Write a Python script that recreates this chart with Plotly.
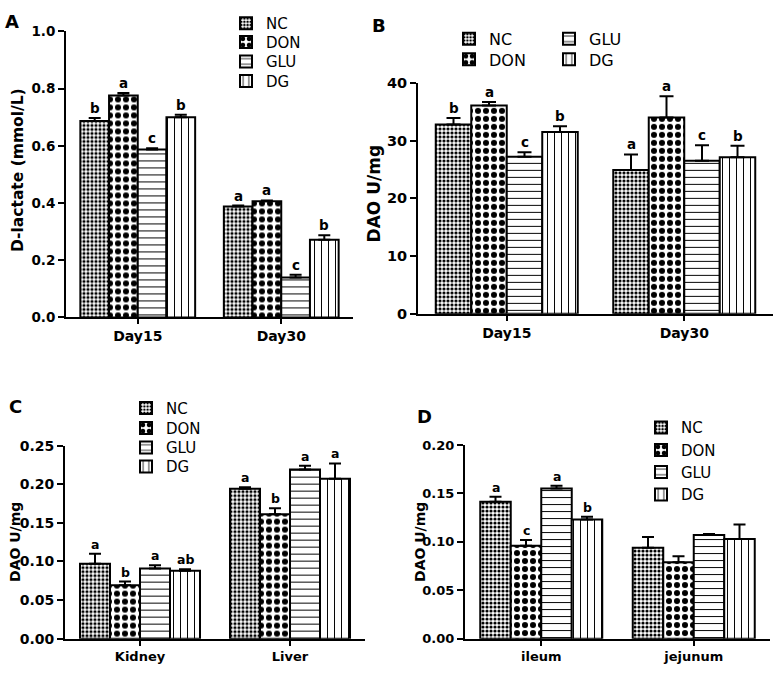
import plotly.graph_objects as go

W, H = 779, 673
FONT = "DejaVu Sans, Verdana, sans-serif"

groups = ["NC", "DON", "GLU", "DG"]

# Panel A: D-lactate
a_categories = ["Day15", "Day30"]
a_values = [[0.687, 0.388], [0.776, 0.406], [0.587, 0.140], [0.700, 0.272]]
a_errors = [[0.010, 0.003], [0.009, 0.003], [0.005, 0.009], [0.009, 0.015]]
a_letters = [["b", "a"], ["a", "a"], ["c", "c"], ["b", "b"]]

# Panel B: DAO serum
b_categories = ["Day15", "Day30"]
b_values = [[32.8, 24.9], [36.1, 34.0], [27.2, 26.5], [31.5, 27.1]]
b_errors = [[1.1, 2.7], [0.6, 3.7], [0.8, 2.7], [1.0, 2.0]]
b_letters = [["b", "a"], ["a", "a"], ["c", "c"], ["b", "b"]]

# Panel C: DAO kidney / liver
c_categories = ["Kidney", "Liver"]
c_values = [[0.097, 0.194], [0.069, 0.161], [0.091, 0.219], [0.088, 0.207]]
c_errors = [[0.013, 0.002], [0.005, 0.008], [0.004, 0.005], [0.002, 0.020]]
c_letters = [["a", "a"], ["b", "b"], ["a", "a"], ["ab", "a"]]

# Panel D: DAO ileum / jejunum
d_categories = ["ileum", "jejunum"]
d_values = [[0.1415, 0.094], [0.096, 0.079], [0.155, 0.107], [0.123, 0.103]]
d_errors = [[0.005, 0.011], [0.006, 0.006], [0.003, 0.001], [0.003, 0.015]]
d_letters = [["a", ""], ["c", ""], ["a", ""], ["b", ""]]

patterns = {
    "NC": dict(shape=".", size=4, solidity=0.5),
    "DON": dict(shape=".", size=8, solidity=0.45),
    "GLU": dict(shape="-", size=7, solidity=0.14),
    "DG": dict(shape="|", size=7, solidity=0.14),
}

def px_x(p):
    return p / W

def px_y(p):
    return 1 - p / H

panels = [
    dict(ax="", cats=a_categories, vals=a_values, errs=a_errors, lets=a_letters,
         dom=(66, 353, 24, 317), yr=[0, 1.0], dtick=0.2, fmt=".1f",
         title="D-lactate (mmol/L)", title_pos=(18, 166), titfs=15.5,
         tfs=13.5, xfs=14, lfs=13.5, errw=6,
         leg_text_x=[267] * 4, leg_y=[16, 35, 55, 75], legfs=15),
    dict(ax="2", cats=b_categories, vals=b_values, errs=b_errors, lets=b_letters,
         dom=(418, 773, 76.7, 313.3), yr=[0, 40], dtick=10, fmt="d",
         title="DAO U/mg", title_pos=(374, 190), titfs=17,
         tfs=14.5, xfs=14, lfs=13.5, errw=7,
         leg_text_x=[490, 490, 590, 590], leg_y=[31.7, 52.7, 31.7, 52.7], legfs=16),
    dict(ax="3", cats=c_categories, vals=c_values, errs=c_errors, lets=c_letters,
         dom=(65, 365, 448.3, 646), yr=[0, 0.25], dtick=0.05, fmt=".2f",
         title="DAO U/mg", title_pos=(15, 547), titfs=14,
         tfs=14, xfs=13, lfs=12.5, errw=6,
         leg_text_x=[167] * 4, leg_y=[410, 430.5, 450.5, 470], legfs=15),
    dict(ax="4", cats=d_categories, vals=d_values, errs=d_errors, lets=d_letters,
         dom=(465, 770, 447.7, 646), yr=[0, 0.20], dtick=0.05, fmt=".2f",
         title="DAO U/mg", title_pos=(420, 547), titfs=14,
         tfs=13, xfs=13, lfs=12.5, errw=6,
         leg_text_x=[682] * 4, leg_y=[430, 453, 475.5, 498.5], legfs=15),
]

fig = go.Figure()
annotations = []
layout_extra = {}

BARGAP = 0.2
bw = (1 - BARGAP) / len(groups)
leg_count = 0

for p in panels:
    xa = "x" + p["ax"]
    ya = "y" + p["ax"]
    for gi, g in enumerate(groups):
        leg_count += 1
        lname = "legend" if leg_count == 1 else "legend%d" % leg_count
        layout_extra[lname] = dict(
            x=px_x(p["leg_text_x"][gi] - 41), y=px_y(p["leg_y"][gi]),
            xanchor="left", yanchor="middle", bgcolor="rgba(0,0,0,0)",
            borderwidth=0, itemwidth=30,
            font=dict(family=FONT, size=p["legfs"], color="black"))
        fig.add_trace(go.Bar(
            x=p["cats"], y=p["vals"][gi], name=g,
            xaxis=xa, yaxis=ya, legend=lname,
            marker=dict(color="white", line=dict(color="black", width=2),
                        pattern=dict(fgcolor="black", bgcolor="white",
                                     fillmode="replace", **patterns[g])),
            error_y=dict(type="data", symmetric=False, array=p["errs"][gi],
                         arrayminus=[0] * len(p["cats"]), color="black",
                         thickness=2, width=p["errw"]),
            showlegend=True,
        ))
        for ci in range(len(p["cats"])):
            t = p["lets"][gi][ci]
            if not t:
                continue
            annotations.append(dict(
                x=ci - (1 - BARGAP) / 2 + bw * (gi + 0.5), xref=xa,
                y=p["vals"][gi][ci] + p["errs"][gi][ci], yref=ya,
                text="<b>" + t + "</b>", showarrow=False, yanchor="bottom",
                yshift=0, font=dict(family=FONT, size=p["lfs"], color="black")))
    tx, ty = p["title_pos"]
    annotations.append(dict(
        x=px_x(tx), y=px_y(ty), xref="paper", yref="paper", textangle=-90,
        text="<b>" + p["title"] + "</b>", showarrow=False,
        xanchor="center", yanchor="middle",
        font=dict(family=FONT, size=p["titfs"], color="black")))
    x0, x1, y0, y1 = p["dom"]
    suffix = p["ax"]
    layout_extra["xaxis" + suffix] = dict(
        domain=[px_x(x0), px_x(x1)], anchor=ya, range=[-0.5, 1.5],
        showline=True, linecolor="black", linewidth=2, ticks="outside",
        ticklen=5, tickwidth=2, tickcolor="black", showgrid=False,
        zeroline=False,
        tickfont=dict(family=FONT, size=p["xfs"], color="black", weight="bold"))
    layout_extra["yaxis" + suffix] = dict(
        domain=[px_y(y1), px_y(y0)], anchor=xa, range=p["yr"], dtick=p["dtick"],
        tick0=0, tickformat=p["fmt"], showline=True, linecolor="black",
        linewidth=2, ticks="outside", ticklen=6, tickwidth=2, tickcolor="black",
        showgrid=False, zeroline=False,
        tickfont=dict(family=FONT, size=p["tfs"], color="black", weight="bold"))

for letter, (lx, ly) in zip("ABCD", [(12, 14), (379, 18), (15, 408), (424, 418)]):
    annotations.append(dict(x=px_x(lx), y=px_y(ly), xref="paper", yref="paper",
                            text="<b>" + letter + "</b>", showarrow=False,
                            xanchor="center", yanchor="middle",
                            font=dict(family=FONT, size=18, color="black")))

fig.update_layout(
    width=W, height=H, margin=dict(l=0, r=0, t=0, b=0),
    paper_bgcolor="white", plot_bgcolor="white",
    barmode="group", bargap=BARGAP, bargroupgap=0,
    annotations=annotations,
    **layout_extra,
)

fig.write_html(
    "out.html",
    config={"displayModeBar": False},
    post_script="document.body.style.margin='0';document.body.style.overflow='hidden';",
)
